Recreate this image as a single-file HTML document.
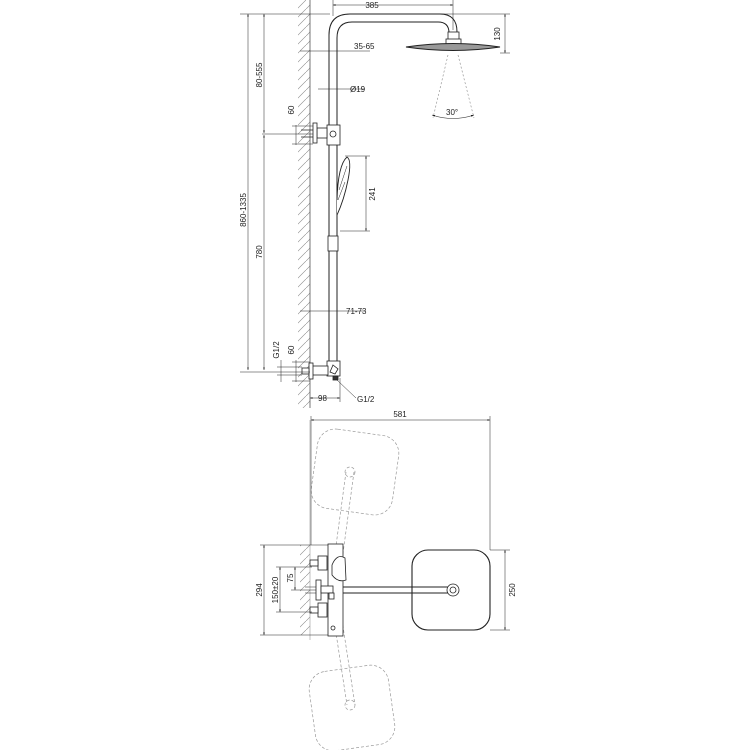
<!DOCTYPE html>
<html><head><meta charset="utf-8"><style>html,body{margin:0;padding:0;background:#fff}</style></head>
<body>
<svg width="750" height="750" viewBox="0 0 750 750" xmlns="http://www.w3.org/2000/svg" font-family="Liberation Sans, sans-serif" font-size="8" fill="none" stroke="#222" stroke-width="0.8">
<defs>
<pattern id="h" width="9" height="9" patternUnits="userSpaceOnUse">
<line x1="0" y1="9" x2="9" y2="0" stroke="#888" stroke-width="0.6"/>
</pattern>
<marker id="a" viewBox="0 0 6 6" refX="6" refY="3" markerWidth="5" markerHeight="5" orient="auto-start-reverse"><path d="M0,1 L6,3 L0,5z" fill="#222" stroke="none"/></marker>
</defs>
<!-- walls -->
<rect x="298" y="0" width="12" height="408" fill="url(#h)" stroke="none"/>
<line x1="310" y1="0" x2="310" y2="408" stroke="#555"/>
<rect x="300" y="545" width="10" height="90" fill="url(#h)" stroke="none"/>
<line x1="310" y1="420" x2="310" y2="640" stroke="#999" stroke-width="0.6"/>

<!-- riser -->
<path d="M329,365 V35 Q329,14 350,14 H440 Q457,14 457,32" stroke-width="1"/>
<path d="M337,365 V38 Q337,22 352,22 H438 Q449,22 449,33" stroke-width="1"/>
<rect x="448" y="32" width="11" height="8" fill="#fff"/>
<rect x="446" y="39" width="15" height="6" fill="#fff"/>
<path d="M406,47 Q453,40 500,47 Q453,54 406,47z" fill="#999" stroke="#222" stroke-width="1"/>
<path d="M448,55 L433,118 M458,55 L474,118" stroke="#888" stroke-dasharray="2,2" stroke-width="0.6"/>
<path d="M432,115 Q453,122 474,115" marker-start="url(#a)" marker-end="url(#a)" stroke-width="0.6"/>
<text x="446" y="115" fill="#222" stroke="none">30°</text>

<!-- upper bracket -->
<rect x="327" y="125" width="13" height="20" fill="#fff"/>
<circle cx="333" cy="134" r="3"/>
<rect x="317" y="128" width="10" height="10" fill="#fff"/>
<rect x="313" y="123" width="4" height="20" fill="#fff"/>
<path d="M301,130 H313 M301,137 H313"/>
<!-- hand shower -->
<path d="M337,200 Q338,165 347,157 Q352,160 348,180 Q344,200 337,215" fill="#fff" stroke-width="0.9"/>
<path d="M339,190 L347,166 M338,200 L345,182" stroke-width="0.5"/>
<rect x="328" y="236" width="10" height="15" fill="#fff"/>
<!-- lower mixer -->
<rect x="327" y="361" width="13" height="15" fill="#fff"/>
<path d="M333,365 l5,4 l-3,5 l-5,-2z"/>
<rect x="312" y="366" width="16" height="9" fill="#fff"/>
<rect x="309" y="363" width="4" height="16" fill="#fff"/>
<rect x="302" y="368" width="7" height="6" fill="#fff"/>
<rect x="333" y="376" width="5" height="4" fill="#333"/>

<!-- dims top -->
<g stroke-width="0.5">
<line x1="333" y1="5" x2="453" y2="5" marker-start="url(#a)" marker-end="url(#a)"/>
<line x1="333" y1="0" x2="333" y2="16"/><line x1="453" y1="0" x2="453" y2="30"/>
<line x1="505" y1="14" x2="505" y2="53" marker-start="url(#a)" marker-end="url(#a)"/>
<line x1="440" y1="14" x2="510" y2="14"/><line x1="500" y1="53" x2="510" y2="53"/>
<line x1="300" y1="51" x2="370" y2="51"/>
<line x1="318" y1="89" x2="365" y2="89"/>
<line x1="300" y1="311" x2="365" y2="311"/>
<line x1="248" y1="14" x2="248" y2="370" marker-start="url(#a)" marker-end="url(#a)"/>
<line x1="264" y1="14" x2="264" y2="133" marker-start="url(#a)" marker-end="url(#a)"/>
<line x1="264" y1="135" x2="264" y2="370" marker-start="url(#a)" marker-end="url(#a)"/>
<line x1="240" y1="14" x2="330" y2="14"/>
<line x1="262" y1="134" x2="313" y2="134"/>
<line x1="240" y1="372" x2="310" y2="372"/>
<line x1="296" y1="125" x2="296" y2="145"/><line x1="292" y1="126" x2="313" y2="126"/><line x1="292" y1="144" x2="313" y2="144"/>
<line x1="296" y1="360" x2="296" y2="382"/><line x1="292" y1="362" x2="310" y2="362"/><line x1="292" y1="381" x2="310" y2="381"/>
<line x1="281" y1="360" x2="281" y2="382"/><line x1="277" y1="367" x2="302" y2="367"/><line x1="277" y1="375" x2="302" y2="375"/>
<line x1="366" y1="156" x2="366" y2="231" marker-start="url(#a)" marker-end="url(#a)"/>
<line x1="345" y1="156" x2="370" y2="156"/><line x1="340" y1="231" x2="370" y2="231"/>
<line x1="310" y1="398" x2="340" y2="398" marker-start="url(#a)" marker-end="url(#a)"/>
<line x1="340" y1="378" x2="340" y2="402"/>
<line x1="337" y1="380" x2="356" y2="398"/>
</g>
<g fill="#222" stroke="none">
<text x="372" y="8" text-anchor="middle">385</text>
<text x="354" y="49">35-65</text>
<text x="350" y="92">Ø19</text>
<text x="346" y="314">71-73</text>
<text x="318" y="401">98</text>
<text x="357" y="402">G1/2</text>
<text transform="translate(500,34) rotate(-90)" text-anchor="middle">130</text>
<text transform="translate(262,75) rotate(-90)" text-anchor="middle">80-555</text>
<text transform="translate(246,210) rotate(-90)" text-anchor="middle">860-1335</text>
<text transform="translate(262,252) rotate(-90)" text-anchor="middle">780</text>
<text transform="translate(294,110) rotate(-90)" text-anchor="middle">60</text>
<text transform="translate(294,350) rotate(-90)" text-anchor="middle">60</text>
<text transform="translate(279,350) rotate(-90)" text-anchor="middle">G1/2</text>
<text transform="translate(375,194) rotate(-90)" text-anchor="middle">241</text>
</g>

<!-- bottom plan view -->
<g stroke="#999" stroke-dasharray="3,2" stroke-width="0.7">
<rect x="314" y="432" width="82" height="80" rx="18" transform="rotate(8 355 472)"/>
<rect x="312" y="668" width="80" height="80" rx="18" transform="rotate(-8 352 708)"/>
<path d="M346,472 L330,590 M354,472 L338,590"/>
<path d="M334,620 L347,705 M342,620 L355,705"/>
<circle cx="350" cy="472" r="5"/>
<circle cx="350" cy="705" r="5"/>
</g>
<rect x="412" y="550" width="78" height="80" rx="16" stroke-width="1.1"/>
<path d="M333,587 H453 M333,593 H453" stroke-width="1"/>
<circle cx="453" cy="590" r="6" fill="#fff"/>
<circle cx="453" cy="590" r="3"/>
<rect x="328" y="544" width="15" height="92" fill="#fff"/>
<path d="M332,565 Q337,553 345,558 L346,580 Q338,583 332,575z" fill="#fff"/>
<circle cx="333" cy="628" r="2"/>
<g fill="#fff">
<rect x="318" y="556" width="9" height="14"/><rect x="310" y="560" width="8" height="6"/>
<rect x="316" y="580" width="5" height="20"/><rect x="321" y="586" width="12" height="7"/>
<rect x="318" y="603" width="9" height="14"/><rect x="310" y="607" width="8" height="6"/>
<rect x="329" y="593" width="5" height="6"/>
</g>
<path d="M305,587 H316 M305,590 H316 M305,593 H316" stroke-width="0.6"/>
<g stroke-width="0.5">
<line x1="311" y1="420" x2="490" y2="420" marker-start="url(#a)" marker-end="url(#a)"/>
<line x1="311" y1="416" x2="311" y2="545"/><line x1="490" y1="416" x2="490" y2="550"/>
<line x1="505" y1="550" x2="505" y2="630" marker-start="url(#a)" marker-end="url(#a)"/>
<line x1="490" y1="550" x2="510" y2="550"/><line x1="490" y1="630" x2="510" y2="630"/>
<line x1="264" y1="545" x2="264" y2="635" marker-start="url(#a)" marker-end="url(#a)"/>
<line x1="260" y1="545" x2="328" y2="545"/><line x1="260" y1="635" x2="328" y2="635"/>
<line x1="280" y1="567" x2="280" y2="612" marker-start="url(#a)" marker-end="url(#a)"/>
<line x1="276" y1="567" x2="312" y2="567"/><line x1="276" y1="612" x2="312" y2="612"/>
<line x1="295" y1="567" x2="295" y2="590" marker-start="url(#a)" marker-end="url(#a)"/>
<line x1="291" y1="590" x2="305" y2="590"/>
</g>
<g fill="#222" stroke="none">
<text x="400" y="417" text-anchor="middle">581</text>
<text transform="translate(515,590) rotate(-90)" text-anchor="middle">250</text>
<text transform="translate(262,590) rotate(-90)" text-anchor="middle">294</text>
<text transform="translate(278,590) rotate(-90)" text-anchor="middle">150±20</text>
<text transform="translate(293,578) rotate(-90)" text-anchor="middle">75</text>
</g>
</svg>
</body></html>
